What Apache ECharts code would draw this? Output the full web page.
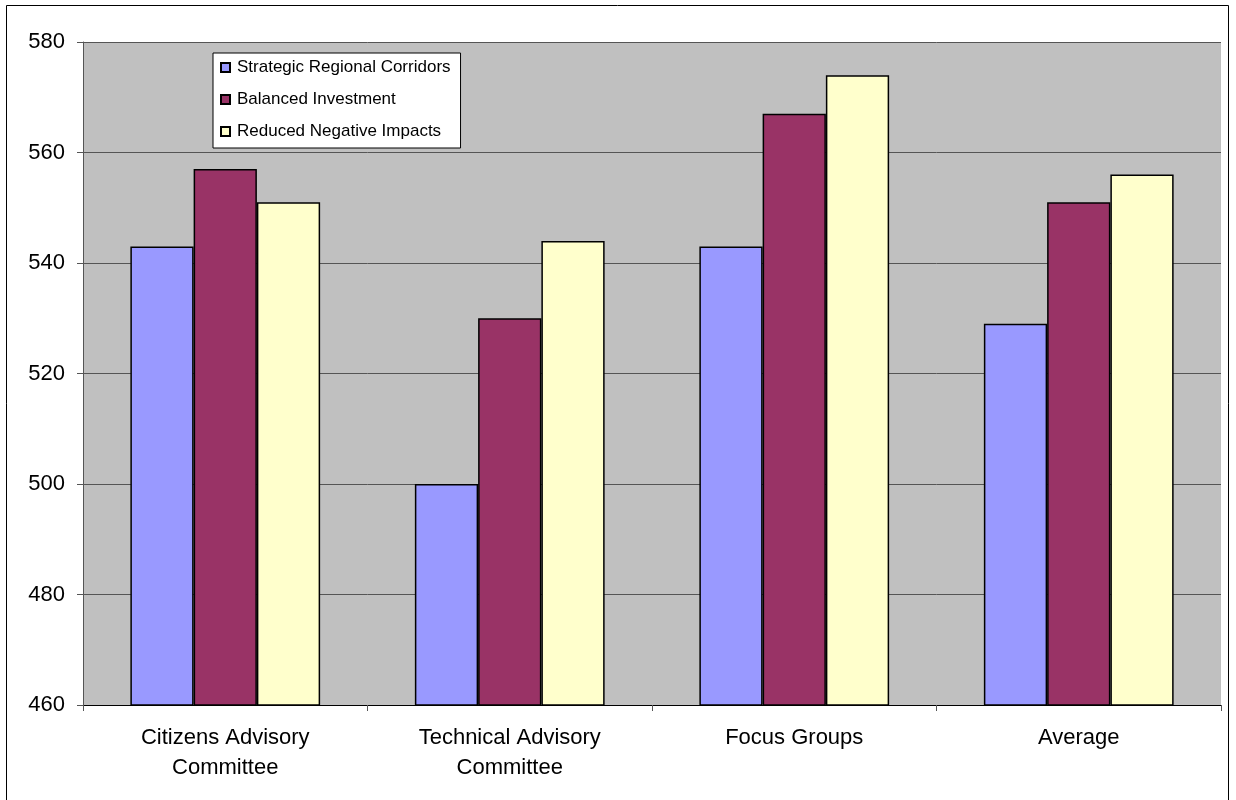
<!DOCTYPE html>
<html>
<head>
<meta charset="utf-8">
<script src="https://cdn.jsdelivr.net/npm/echarts@6/dist/echarts.min.js"></script>
<style>
  html, body { margin: 0; padding: 0; background: #fff; }
  #chart { width: 1236px; height: 800px; }
</style>
</head>
<body>
<div id="chart"></div>
<script>
// Plan scores by stakeholder group
const categories = ['Citizens Advisory\nCommittee', 'Technical Advisory\nCommittee', 'Focus Groups', 'Average'];
const seriesNames = ['Strategic Regional Corridors', 'Balanced Investment', 'Reduced Negative Impacts'];
const strategicRegionalCorridors = [543, 500, 543, 529];
const balancedInvestment = [557, 530, 567, 551];
const reducedNegativeImpacts = [551, 544, 574, 556];
const yTicks = { min: 460, max: 580, step: 20 };

const colors = ['#9999FF', '#993366', '#FFFFCC'];
const values = [strategicRegionalCorridors, balancedInvestment, reducedNegativeImpacts];
const font = 'Arial, "Liberation Sans", sans-serif';

const chart = echarts.init(document.getElementById('chart'), null, { renderer: 'canvas' });

chart.setOption({
  animation: false,
  backgroundColor: '#ffffff',
  textStyle: { fontFamily: font, color: '#000' },
  grid: {
    left: 83, right: 15, top: 42, bottom: 95,
    show: true, backgroundColor: '#C0C0C0', borderWidth: 0
  },
  legend: {
    orient: 'vertical',
    left: 213, top: 53,
    backgroundColor: '#ffffff',
    borderColor: '#000',
    borderWidth: 1,
    padding: [6, 10, 8, 7],
    itemWidth: 9, itemHeight: 9,
    itemGap: 15,
    icon: 'rect',
    textStyle: { fontFamily: font, fontSize: 17, color: '#000', lineHeight: 17, padding: [0, 0, 0, 2] },
    data: seriesNames
  },
  xAxis: {
    type: 'category',
    data: categories,
    axisLine: { lineStyle: { color: '#000', width: 1 } },
    axisTick: { show: true, alignWithLabel: false, length: 6, lineStyle: { color: '#555' } },
    axisLabel: { fontFamily: font, fontSize: 22, color: '#000', lineHeight: 30, margin: 18 },
    splitLine: { show: false }
  },
  yAxis: {
    type: 'value',
    min: yTicks.min, max: yTicks.max, interval: yTicks.step,
    axisLine: { show: true, lineStyle: { color: '#555', width: 1 } },
    axisTick: { show: true, inside: false, length: 6, lineStyle: { color: '#555' } },
    axisLabel: { fontFamily: font, fontSize: 22, color: '#000', margin: 18 },
    splitLine: { show: true, lineStyle: { color: '#555', width: 1 } }
  },
  series: seriesNames.map((name, i) => ({
    name: name,
    type: 'bar',
    data: values[i],
    barGap: '0%',
    barCategoryGap: '33.3%',
    itemStyle: { color: colors[i], borderColor: '#000', borderWidth: 1.5 }
  })),
  graphic: [{
    type: 'rect',
    shape: { x: 6.5, y: 5.5, width: 1222, height: 800 },
    style: { fill: 'none', stroke: '#000', lineWidth: 1 },
    silent: true,
    z: 100
  }]
});
</script>
</body>
</html>
